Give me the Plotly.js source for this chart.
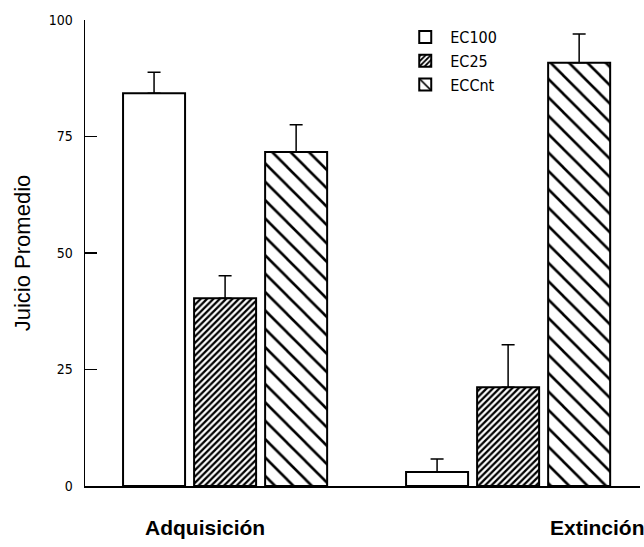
<!DOCTYPE html>
<html>
<head>
<meta charset="utf-8">
<script src="https://cdn.plot.ly/plotly-3.0.1.min.js"></script>
<style>html,body{margin:0;padding:0;background:#fff;}#chart{width:644px;height:547px;}</style>
</head>
<body>
<div id="chart"></div>
<script>
// Data
const phases = ["Adquisición", "Extinción"];
const seriesNames = ["EC100", "EC25", "ECCnt"];
const ec100 = [84.3, 3.0];
const ec100Err = [4.5, 2.8];
const ec25 = [40.3, 21.2];
const ec25Err = [4.8, 9.1];
const ecCnt = [71.7, 90.8];
const ecCntErr = [5.8, 6.2];
const yTicks = [0, 25, 50, 75, 100];

const narrow = "Liberation Sans Narrow, DejaVu Sans Condensed, Arial, sans-serif";

function bar(name, vals, errs, pattern) {
  return {
    type: "bar",
    name: name,
    x: phases,
    y: vals,
    marker: {
      color: "#ffffff",
      line: {color: "#000000", width: 2},
      pattern: pattern
    },
    error_y: {
      type: "data",
      symmetric: false,
      array: errs,
      arrayminus: errs.map(() => 0),
      color: "#000000",
      thickness: 1.5,
      width: 6.5
    }
  };
}

const data = [
  bar(seriesNames[0], ec100, ec100Err, {shape: ""}),
  bar(seriesNames[1], ec25, ec25Err, {shape: "/", size: 4.5, solidity: 0.5, fgcolor: "#000000", bgcolor: "#ffffff"}),
  bar(seriesNames[2], ecCnt, ecCntErr, {shape: "\\", size: 13, solidity: 0.2, fgcolor: "#000000", bgcolor: "#ffffff"})
];

const layout = {
  width: 644,
  height: 547,
  margin: {l: 85, r: 4, t: 20, b: 61},
  paper_bgcolor: "#ffffff",
  plot_bgcolor: "#ffffff",
  barmode: "group",
  bargap: 0.247,
  bargroupgap: 0.127,
  showlegend: true,
  legend: {
    x: 0.568, y: 1.0, xanchor: "left", yanchor: "top",
    font: {family: narrow, size: 16, color: "#000"},
    bgcolor: "rgba(0,0,0,0)",
    tracegroupgap: 0,
    itemwidth: 40
  },
  xaxis: {
    type: "category",
    range: [-0.495, 1.466],
    showticklabels: false,
    ticks: "",
    showgrid: false,
    zeroline: false,
    showline: true,
    linecolor: "#000",
    linewidth: 1.5
  },
  yaxis: {
    range: [0, 100],
    tickvals: yTicks,
    ticktext: yTicks.map(String),
    ticks: "inside",
    ticklen: 12,
    tickwidth: 1.5,
    tickcolor: "#000",
    ticklabelstandoff: 8,
    showgrid: false,
    zeroline: false,
    showline: true,
    linecolor: "#000",
    linewidth: 1.5,
    tickfont: {family: narrow, size: 14, color: "#000"},
    title: {text: "Juicio Promedio", font: {family: "Liberation Sans, Arial, sans-serif", size: 22, color: "#000"}, standoff: 12}
  },
  annotations: [
    {text: "<b>" + phases[0] + "</b>", xref: "paper", yref: "paper", x: 0.216, y: -0.088, xanchor: "center", yanchor: "middle", showarrow: false, font: {family: "Liberation Sans, Arial, sans-serif", size: 21, color: "#000"}},
    {text: "<b>" + phases[1] + "</b>", xref: "paper", yref: "paper", x: 0.924, y: -0.088, xanchor: "center", yanchor: "middle", showarrow: false, font: {family: "Liberation Sans, Arial, sans-serif", size: 21, color: "#000"}}
  ]
};

Plotly.newPlot("chart", data, layout, {displayModeBar: false, staticPlot: true});
</script>
</body>
</html>
